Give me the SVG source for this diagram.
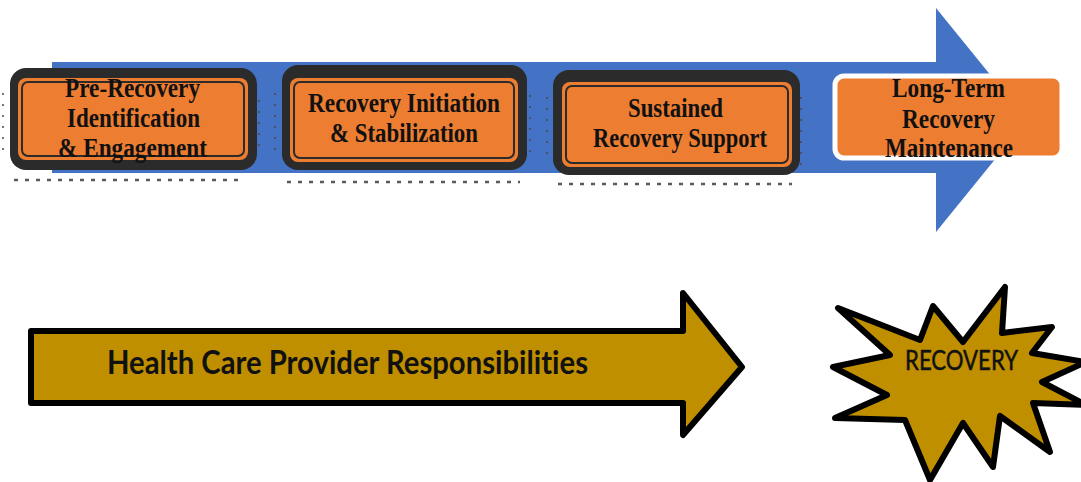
<svg xmlns="http://www.w3.org/2000/svg" width="1081" height="482" viewBox="0 0 1081 482">
  <style>
    .stage-frame { fill: #2b2b2b; }
    .stage-fill { fill: #ed7d31; }
    .stage-line { fill: none; stroke: #2b2b2b; stroke-width: 2; }
    .stage-text { font-family: "Liberation Serif", "Times New Roman", serif; font-weight: bold; font-size: 28px; fill: #111111; text-anchor: middle; }
    .speckle { fill: none; stroke: #5a5a5a; stroke-width: 2.5; stroke-dasharray: 4 7; }
    .speckle-v { fill: none; stroke: #4a4a4a; stroke-width: 1.5; stroke-dasharray: 2 9; }
    .gold { fill: #bf8f00; stroke: #000000; stroke-width: 6; stroke-linejoin: round; }
    .sans { font-family: Lato, "Open Sans", "Liberation Sans", sans-serif; fill: #111111; font-variant-ligatures: none; }
  </style>

  <!-- long blue process arrow behind the stages -->
  <g id="process-arrow">
    <path d="M52,62 L936,62 L936,8 L1027,120 L936,232 L936,173 L52,173 Z" fill="#4472c4"/>
  </g>

  <!-- stage 1 -->
  <g id="stage-pre-recovery">
    <rect class="stage-frame" x="10" y="68" width="247" height="102" rx="16"/>
    <rect class="stage-fill" x="18" y="78" width="230" height="82" rx="8"/>
    <rect class="stage-line" x="22" y="82" width="222" height="74" rx="6"/>
    <text class="stage-text" x="132.5" y="97" textLength="135" lengthAdjust="spacingAndGlyphs">Pre-Recovery</text>
    <text class="stage-text" x="133.5" y="127" textLength="133" lengthAdjust="spacingAndGlyphs">Identification</text>
    <text class="stage-text" x="132.5" y="157" textLength="149" lengthAdjust="spacingAndGlyphs">&amp; Engagement</text>
    <line class="speckle" x1="14" y1="180" x2="244" y2="180"/>
    <line class="speckle-v" x1="3" y1="93" x2="3" y2="152"/>
    <line class="speckle-v" x1="259" y1="100" x2="259" y2="150"/>
  </g>

  <!-- stage 2 -->
  <g id="stage-initiation">
    <rect class="stage-frame" x="282" y="65" width="245" height="105" rx="16"/>
    <rect class="stage-fill" x="290" y="78" width="228" height="84" rx="8"/>
    <rect class="stage-line" x="294" y="82" width="220" height="76" rx="6"/>
    <text class="stage-text" x="404" y="112" textLength="192" lengthAdjust="spacingAndGlyphs">Recovery Initiation</text>
    <text class="stage-text" x="404" y="142" textLength="148" lengthAdjust="spacingAndGlyphs">&amp; Stabilization</text>
    <line class="speckle" x1="287" y1="182" x2="520" y2="182"/>
    <line class="speckle-v" x1="275" y1="93" x2="275" y2="157"/>
    <line class="speckle-v" x1="530" y1="95" x2="530" y2="160"/>
  </g>

  <!-- stage 3 -->
  <g id="stage-sustained">
    <rect class="stage-frame" x="553" y="70" width="247" height="105" rx="16"/>
    <rect class="stage-fill" x="562" y="82" width="230" height="85" rx="8"/>
    <rect class="stage-line" x="566" y="86" width="222" height="77" rx="6"/>
    <text class="stage-text" x="675.5" y="117" textLength="95" lengthAdjust="spacingAndGlyphs">Sustained</text>
    <text class="stage-text" x="680" y="147" textLength="174" lengthAdjust="spacingAndGlyphs">Recovery Support</text>
    <line class="speckle" x1="558" y1="184" x2="792" y2="184"/>
    <line class="speckle-v" x1="547" y1="97" x2="547" y2="162"/>
    <line class="speckle-v" x1="801" y1="97" x2="801" y2="168"/>
  </g>

  <!-- stage 4 -->
  <g id="stage-maintenance">
    <rect x="835" y="76" width="227" height="82" rx="9" fill="#ed7d31" stroke="#ffffff" stroke-width="5"/>
    <text class="stage-text" x="948.5" y="97" textLength="113" lengthAdjust="spacingAndGlyphs">Long-Term</text>
    <text class="stage-text" x="948.5" y="128" textLength="93" lengthAdjust="spacingAndGlyphs">Recovery</text>
    <text class="stage-text" x="949" y="157" textLength="128" lengthAdjust="spacingAndGlyphs">Maintenance</text>
  </g>

  <!-- provider responsibilities arrow -->
  <g id="provider-arrow">
    <path class="gold" d="M31,331 L683,331 L683,293 L742,367 L683,435 L683,403 L31,403 Z"/>
    <text class="sans" x="107" y="374" font-size="33" font-weight="bold" textLength="481" lengthAdjust="spacingAndGlyphs">Health Care Provider Responsibilities</text>
  </g>

  <!-- recovery burst -->
  <g id="recovery-burst">
    <path class="gold" d="M838,308 L920,340 L933,306 L963,342 L1005,287 L1002,333 L1052,327 L1032,353 L1086,362 L1042,382 L1086,405 L1033,403 L1050,452 L1000,416 L993,467 L963,423 L930,480 L905,420 L835,418 L887,395 L833,367 L890,355 Z"/>
    <text class="sans" x="905" y="370" font-size="26" stroke="#111111" stroke-width="0.5" textLength="113" lengthAdjust="spacingAndGlyphs">RECOVERY</text>
  </g>

  <!-- no connectors between the stages beyond the arrows themselves -->
  <g id="connectors"/>
</svg>
